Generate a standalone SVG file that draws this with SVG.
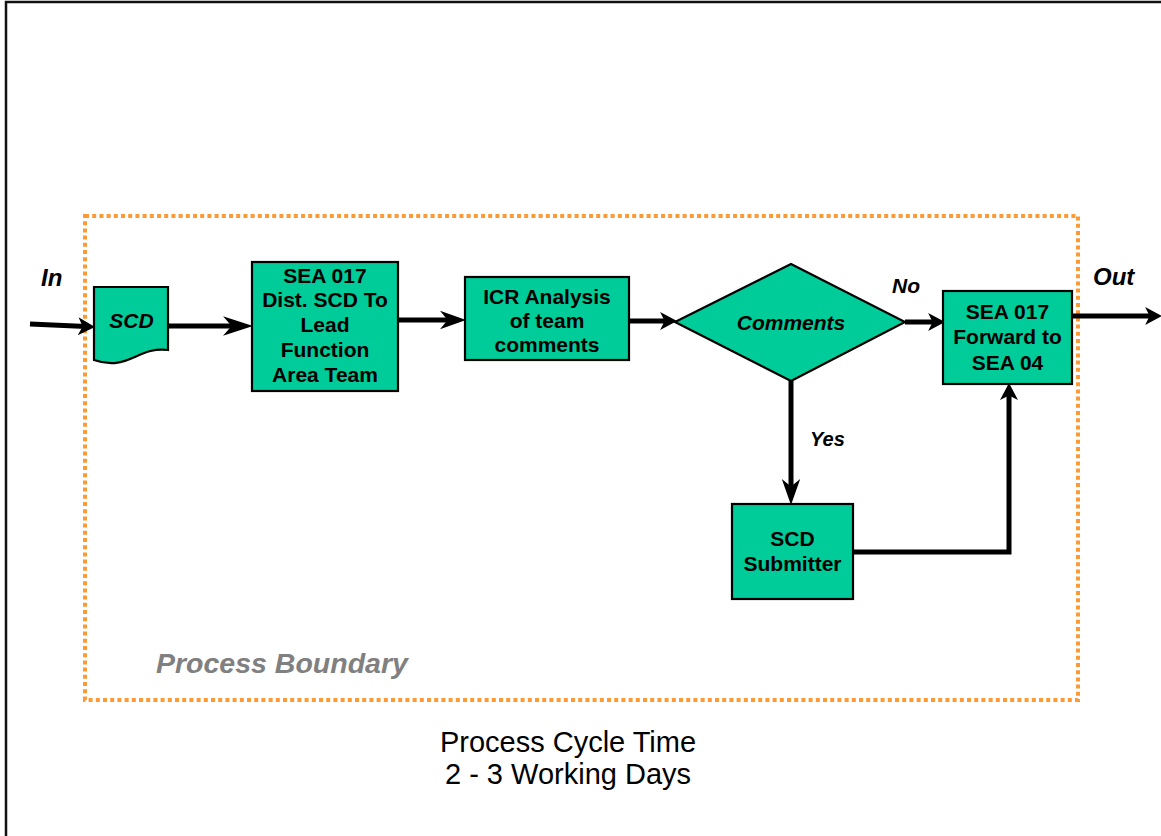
<svg xmlns="http://www.w3.org/2000/svg" width="1161" height="836" viewBox="0 0 1161 836">
<style>
.node{fill:#00CC99;stroke:#000;stroke-width:2.2}
.t{font-family:"Liberation Sans",Arial,sans-serif;font-weight:bold;font-size:21px;fill:#000;text-anchor:middle}
.ti{font-family:"Liberation Sans",Arial,sans-serif;font-weight:bold;font-style:italic;fill:#000}
.conn{fill:none;stroke:#000;stroke-width:5}
.plain{font-family:"Liberation Sans",Arial,sans-serif;font-size:29px;fill:#000;text-anchor:middle}
</style>
<defs>
<marker id="aL" markerUnits="userSpaceOnUse" markerWidth="30" markerHeight="20" viewBox="0 0 28 18" refX="14" refY="9" orient="auto">
<path d="M0,0 L28,9 L0,18 L8,9 Z" fill="#000"/>
</marker>
<marker id="aM" markerUnits="userSpaceOnUse" markerWidth="26" markerHeight="20" viewBox="0 0 24 17" refX="12" refY="8.5" orient="auto">
<path d="M0,0 L24,8.5 L0,17 L7,8.5 Z" fill="#000"/>
</marker>
<marker id="aS" markerUnits="userSpaceOnUse" markerWidth="18" markerHeight="18" viewBox="0 0 15 16" refX="7" refY="8" orient="auto">
<path d="M0,0 L15,8 L0,16 L4,8 Z" fill="#000"/>
</marker>
</defs>
<rect width="1161" height="836" fill="#fff"/>
<path d="M6,836 V2 H1161" fill="none" stroke="#111" stroke-width="2.5"/>
<rect id="process-boundary" x="85" y="216" width="993" height="484" fill="none" stroke="#FF9933" stroke-width="4" stroke-dasharray="4 3.2"/>
<text class="ti" x="156" y="673" font-size="28.5" style="fill:#808080">Process Boundary</text>
<g id="connectors">
<path class="conn" d="M30,324 L86,326.6" marker-end="url(#aS)"/>
<path class="conn" d="M168,326 H238" marker-end="url(#aL)"/>
<path class="conn" d="M398,320 H453" marker-end="url(#aM)"/>
<path class="conn" d="M629,321 H668" marker-end="url(#aS)"/>
<path class="conn" d="M905,322 H936" marker-end="url(#aS)"/>
<path class="conn" d="M1072,316 H1153" marker-end="url(#aS)"/>
<path class="conn" d="M791,381 V492" marker-end="url(#aM)"/>
<path class="conn" d="M853,552 H1009 V392" marker-end="url(#aS)"/>
<text class="ti" x="41" y="286" font-size="24">In</text>
<text class="ti" x="1093" y="285" font-size="24">Out</text>
<text class="ti" x="892" y="293" font-size="21">No</text>
<text class="ti" x="810" y="446" font-size="20">Yes</text>
</g>
<g id="scd-doc">
<path class="node" d="M94,287 H168 V350 C138,346 128,372 94,360 Z"/>
<text class="ti" x="131.5" y="328" font-size="21" text-anchor="middle">SCD</text>
</g>
<g id="sea017-dist">
<rect class="node" x="252" y="262" width="146" height="129"/>
<text class="t" x="325" y="283">SEA 017</text>
<text class="t" x="325" y="307">Dist. SCD To</text>
<text class="t" x="325" y="332">Lead</text>
<text class="t" x="325" y="357">Function</text>
<text class="t" x="325" y="382">Area Team</text>
</g>
<g id="icr-analysis">
<rect class="node" x="465" y="277" width="164" height="83"/>
<text class="t" x="547" y="304">ICR Analysis</text>
<text class="t" x="547" y="328">of team</text>
<text class="t" x="547" y="352">comments</text>
</g>
<g id="comments">
<path class="node" d="M675,322 L791,264 L905,322 L791,381 Z"/>
<text class="ti" x="791" y="330" font-size="21" text-anchor="middle">Comments</text>
</g>
<g id="sea017-forward">
<rect class="node" x="943" y="291" width="129" height="93"/>
<text class="t" x="1007.5" y="319">SEA 017</text>
<text class="t" x="1007.5" y="344">Forward to</text>
<text class="t" x="1007.5" y="370">SEA 04</text>
</g>
<g id="scd-submitter">
<rect class="node" x="732" y="504" width="121" height="95"/>
<text class="t" x="792.5" y="546">SCD</text>
<text class="t" x="792.5" y="571">Submitter</text>
</g>
<text class="plain" x="568" y="752">Process Cycle Time</text>
<text class="plain" x="568" y="784">2 - 3 Working Days</text>
</svg>
